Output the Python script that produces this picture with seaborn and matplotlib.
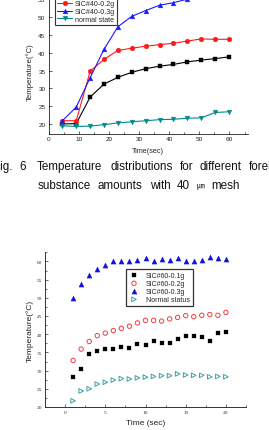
import matplotlib
matplotlib.use("Agg")
import matplotlib.pyplot as plt
import seaborn as sns
from matplotlib.ticker import MultipleLocator

# upper chart: 40 um mesh
time_40 = [4.6, 9.2, 13.8, 18.4, 23.0, 27.6, 32.2, 36.8, 41.4, 46.0, 50.6, 55.2, 59.8]
sic40_01 = [20.1, 20.2, 27.6, 31.2, 33.1, 34.5, 35.5, 36.2, 36.7, 37.4, 37.9, 38.3, 38.8]
sic40_02 = [21.0, 21.0, 34.8, 38.1, 40.6, 41.2, 41.8, 42.2, 42.6, 43.2, 43.8, 43.7, 43.7]
sic40_03 = [21.0, 24.8, 33.0, 40.9, 47.2, 50.1, 51.7, 53.2, 53.9, 54.9]
normal_40 = [19.6, 19.4, 19.5, 19.9, 20.4, 20.7, 21.0, 21.3, 21.4, 21.7, 21.8, 23.3, 23.5]
labels_40 = ["SIC#40-0.1g", "SIC#40-0.2g", "SIC#40-0.3g", "normal state"]

# lower chart: 60 um mesh
time_60 = list(range(1, 21))
sic60_01 = [28.2, 30.5, 34.5, 35.3, 35.8, 36.0, 36.6, 36.3, 37.2, 37.0,
            38.0, 37.7, 37.5, 38.8, 39.4, 39.5, 39.1, 38.2, 40.4, 40.5]
sic60_02 = [32.8, 35.9, 38.0, 39.6, 40.3, 41.0, 41.6, 42.2, 43.1, 43.8,
            43.8, 43.6, 44.2, 44.6, 45.1, 44.8, 45.2, 45.4, 45.2, 46.0]
sic60_03 = [50.0, 53.9, 56.4, 58.0, 58.9, 60.0, 60.0, 60.0, 60.5, 60.9,
            60.2, 60.6, 60.4, 60.9, 60.2, 60.2, 60.4, 61.2, 60.8, 60.7]
normal_60 = [21.7, 24.4, 25.0, 26.3, 26.8, 27.4, 27.8, 27.7, 28.0, 28.2,
             28.4, 28.6, 28.6, 29.1, 28.8, 28.7, 28.7, 28.3, 28.4, 28.3]
labels_60 = ["SIC#60-0.1g", "SIC#60-0.2g", "SIC#60-0.3g", "Normal status"]

caption_1 = ["Fig.", "6", "Temperature", "distributions", "for", "different", "foreign"]
caption_2 = ["substance", "amounts", "with", "40", "\u339b", "mesh"]

W, H = 269, 431


def px_box(left, top, right, bottom):
    """axes rect from pixel edges (origin top-left)"""
    return [left / W, 1 - bottom / H, (right - left) / W, (bottom - top) / H]


def plot_top(fig):
    # 20 -> 125.3 px, 3.587 px per degree; upper part is cropped by the page
    ax = fig.add_axes(px_box(48.5, -11.0, 247.6, 135.0))
    series = [sic40_01, sic40_02, sic40_03, normal_40]
    colors = ["#000000", "#ff1a1a", "#1a1aff", "#008b8b"]
    markers = ["s", "o", "^", "v"]
    for vals, lab, col, mk in zip(series, labels_40, colors, markers):
        sns.lineplot(x=time_40[:len(vals)], y=vals, ax=ax, color=col, marker=mk,
                     markersize=3.4, markeredgecolor=col, markeredgewidth=0.3,
                     linewidth=0.8, label=lab)
    ax.set_xlim(0, 66)
    ax.set_ylim(17.3, 58)
    ax.xaxis.set_major_locator(MultipleLocator(10))
    ax.xaxis.set_minor_locator(MultipleLocator(5))
    ax.yaxis.set_major_locator(MultipleLocator(5))
    ax.tick_params(which="both", direction="in", width=0.5, colors="#222222")
    ax.tick_params(which="major", length=2.2)
    ax.tick_params(which="minor", length=1.2)
    ax.tick_params(axis="x", pad=1.6)
    ax.tick_params(axis="y", pad=2.2)
    for lbl in ax.get_xticklabels() + ax.get_yticklabels():
        lbl.set_fontsize(4.6)
        lbl.set_family("Liberation Sans")
    for s in ["top", "right"]:
        ax.spines[s].set_visible(False)
    for s in ["left", "bottom"]:
        ax.spines[s].set_linewidth(0.6)
        ax.spines[s].set_color("#222222")
    ax.set_xlabel("Time(sec)", fontsize=5.2, family="Liberation Sans")
    ax.set_ylabel("Temperature(\u00b0C)", fontsize=5.6, family="Liberation Sans")
    ax.xaxis.set_label_coords(0.5, -0.086)
    ax.yaxis.set_label_coords(-0.075, 0.434)
    leg = ax.legend(loc="lower left", bbox_to_anchor=(55 / W, 1 - 26 / H),
                    bbox_transform=fig.transFigure, borderaxespad=0,
                    prop={"family": "Liberation Sans", "size": 5.1},
                    frameon=True, fancybox=False, framealpha=1,
                    edgecolor="#333333", borderpad=0.3, labelspacing=0.12,
                    handlelength=2.1, handletextpad=0.4)
    leg.get_frame().set_linewidth(0.8)
    return ax


def plot_bottom(fig):
    ax = fig.add_axes(px_box(45, 253.3, 246, 408))
    series = [sic60_01, sic60_02, sic60_03, normal_60]
    colors = ["#000000", "#f04040", "#1010e0", "#3aa0a0"]
    markers = ["s", "o", "^", ">"]
    sizes = [10, 10, 14, 11]
    hollow = [False, True, False, True]
    for vals, lab, col, mk, sz, ho in zip(series, labels_60, colors, markers, sizes, hollow):
        sns.scatterplot(x=time_60, y=vals, ax=ax, color=col, marker=mk, s=sz,
                        edgecolor=col, linewidth=0.7 if ho else 0.2, label=lab)
        if ho:
            ax.collections[-1].set_facecolor("none")
    ax.set_xlim(-2.5, 22.5)
    ax.set_ylim(20, 62.5)
    ax.xaxis.set_major_locator(MultipleLocator(5))
    ax.xaxis.set_minor_locator(MultipleLocator(2.5))
    ax.yaxis.set_major_locator(MultipleLocator(5))
    ax.yaxis.set_minor_locator(MultipleLocator(2.5))
    ax.tick_params(which="both", direction="in", width=0.5, colors="#333333")
    ax.tick_params(which="major", length=2.4)
    ax.tick_params(which="minor", length=1.3)
    ax.tick_params(axis="x", pad=2.2)
    ax.tick_params(axis="y", pad=2.0)
    for lbl in ax.get_xticklabels() + ax.get_yticklabels():
        lbl.set_fontsize(3.9)
        lbl.set_family("Liberation Serif")
    for s in ["top", "right"]:
        ax.spines[s].set_visible(False)
    for s in ["left", "bottom"]:
        ax.spines[s].set_linewidth(0.7)
        ax.spines[s].set_color("#333333")
    ax.set_xlabel("Time (sec)", fontsize=6.0, family="Liberation Sans", color="#222222")
    ax.set_ylabel("Temperature(\u00b0C)", fontsize=6.0, family="Liberation Sans", color="#222222")
    ax.xaxis.set_label_coords(0.5, -0.078)
    ax.yaxis.set_label_coords(-0.057, 0.5)
    leg = ax.legend(loc="upper left", bbox_to_anchor=(126 / W, 1 - 270.3 / H),
                    bbox_transform=fig.transFigure, borderaxespad=0,
                    prop={"family": "Liberation Sans", "size": 5.0},
                    frameon=True, fancybox=False, framealpha=1,
                    edgecolor="#333333", borderpad=0.4, labelspacing=0.15,
                    handlelength=1.5, handletextpad=1.0)
    leg.get_frame().set_linewidth(0.9)
    return ax


def add_caption(fig):
    fam = ["Liberation Sans", "Noto Sans CJK KR"]
    # justified caption: word start positions in pixels
    xs_1 = [-7.1, 19.5, 37, 110.5, 179.6, 200, 248.9]
    xs_2 = [38, 98, 149.6, 177.1, 196.9, 211.7]
    for word, x in zip(caption_1, xs_1):
        fig.text(x / W, 1 - 167 / H, word, fontsize=8.4, family=fam,
                 ha="left", va="center", color="#111111")
    for word, x in zip(caption_2, xs_2):
        size = 5.6 if word == "\u339b" else 8.4
        fig.text(x / W, 1 - 186 / H, word, fontsize=size, family=fam,
                 ha="left", va="center", color="#111111")


def main():
    sns.set_style("ticks")
    plt.rcParams["font.family"] = ["Liberation Sans", "DejaVu Sans"]
    fig = plt.figure(figsize=(W / 100, H / 100), dpi=100)
    plot_top(fig)
    plot_bottom(fig)
    add_caption(fig)
    fig.savefig("out.png", dpi=100)


if __name__ == "__main__":
    main()
